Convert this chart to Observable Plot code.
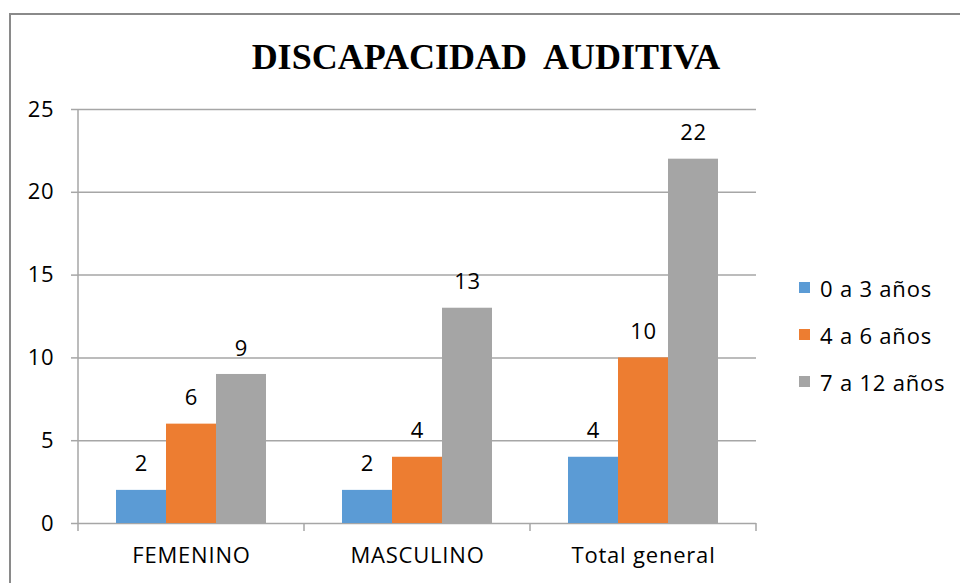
<!DOCTYPE html>
<html><head><meta charset="utf-8">
<script src="https://cdn.jsdelivr.net/npm/d3@7"></script>
<script src="https://cdn.jsdelivr.net/npm/@observablehq/plot@0.6"></script>
<style>
html,body{margin:0;padding:0;background:#fff;}
#wrap{position:relative;width:960px;height:583px;overflow:hidden;font-family:"Open Sans",sans-serif;}
#border{position:absolute;left:9px;top:13px;width:1000px;height:1000px;border-left:2px solid #8a8a8a;border-top:2px solid #8a8a8a;}
#title{position:absolute;left:0;width:972px;top:37px;line-height:40px;text-align:center;font-family:"Liberation Serif","Times New Roman",serif;font-weight:bold;font-size:36px;color:#000;}
#chart{position:absolute;left:0;top:0;}
#legend{position:absolute;left:799px;top:264px;}
.row{display:flex;align-items:center;height:47px;font-size:22px;letter-spacing:0.8px;color:#000;}
.sw{width:11px;height:11px;margin-right:10px;}
svg text{letter-spacing:0.8px;}
</style>
</head><body>
<div id="wrap">
  <div id="border"></div>
  <div id="chart"></div>
  <div id="title">DISCAPACIDAD&nbsp; AUDITIVA</div>
  <div id="legend"></div>
</div>
<script>
const categories = ["FEMENINO", "MASCULINO", "Total general"];
const series = ["0 a 3 años", "4 a 6 años", "7 a 12 años"];
const values0to3 = [2, 2, 4];
const values4to6 = [6, 4, 10];
const values7to12 = [9, 13, 22];
const yTicks = [0, 5, 10, 15, 20, 25];
const colors = ["#5B9BD5", "#ED7D31", "#A5A5A5"];

const seriesValues = [values0to3, values4to6, values7to12];
const data = series.flatMap((s, i) => categories.map((c, j) => ({category: c, series: s, value: seriesValues[i][j]})));

const plot = Plot.plot({
  width: 960, height: 583,
  marginTop: 109, marginBottom: 60, marginLeft: 77, marginRight: 203,
  style: {fontFamily: "'Open Sans', sans-serif", fontSize: "22px", color: "#000", background: "transparent"},
  fx: {domain: categories, padding: 0, label: null},
  x: {domain: series, paddingInner: 0, paddingOuter: 0.74, axis: null},
  y: {domain: [0, 25], label: null},
  color: {domain: series, range: colors},
  marks: [
    Plot.gridY(yTicks, {stroke: "#a6a6a6", strokeOpacity: 1, strokeWidth: 1.5}),
    Plot.axisY(yTicks, {tickSize: 7, tickPadding: 17, stroke: "#a6a6a6", strokeWidth: 1.5, label: null, fontSize: 22, fill: "#000"}),
    Plot.barY(data, {fx: "category", x: "series", y: "value", fill: "series"}),
    Plot.text(data, {fx: "category", x: "series", y: "value", text: "value", dy: -26, fontSize: 22, fill: "#000"}),
    Plot.axisFx({anchor: "bottom", tickSize: 0, tickPadding: 24, label: null, fontSize: 22, fill: "#000"})
  ]
});
document.getElementById("chart").appendChild(plot);

// axis line and category boundary ticks from the plot's own scales
const fx = plot.scale("fx"), y = plot.scale("y");
const y0 = y.apply(0), yTop = y.apply(25);
const bounds = categories.map(c => fx.apply(c)).concat([fx.apply(categories[categories.length - 1]) + fx.bandwidth]);
const g = d3.select(plot).append("g").attr("stroke", "#a6a6a6").attr("stroke-width", 1.5);
g.append("line").attr("x1", bounds[0]).attr("x2", bounds[0]).attr("y1", yTop).attr("y2", y0);
bounds.forEach(b => g.append("line").attr("x1", b).attr("x2", b).attr("y1", y0).attr("y2", y0 + 8));

// legend from the color scale
const color = plot.scale("color");
const leg = d3.select("#legend");
color.domain.forEach((d, i) => {
  const r = leg.append("div").attr("class", "row");
  r.append("div").attr("class", "sw").style("background", color.range[i]);
  r.append("span").text(d);
});
</script>
</body></html>
